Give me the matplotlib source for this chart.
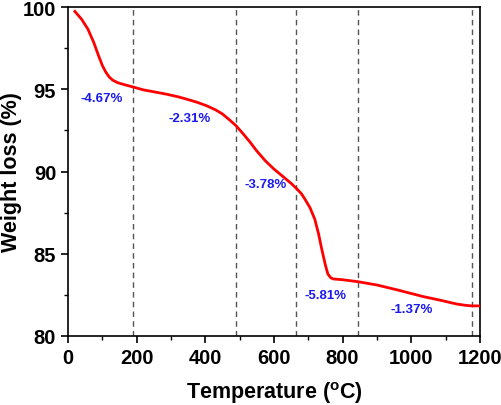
import matplotlib.pyplot as plt
import numpy as np
from matplotlib.ticker import MultipleLocator

plt.rcParams.update({
    "font.family": "Liberation Sans",
    "font.weight": "bold",
    "mathtext.fontset": "custom",
    "mathtext.rm": "Liberation Sans:bold",
    "mathtext.bf": "Liberation Sans:bold",
})

# TGA curve
temp = [20, 40, 58, 75, 88, 100, 110, 120, 130, 145, 165, 190, 219, 250, 288,
        320, 346, 375, 404, 430, 450, 470, 489, 510, 530, 550, 575, 600, 626,
        650, 667, 680, 690, 705, 719, 730, 739, 750, 757, 765, 772, 800, 845,
        900, 960, 1034, 1090, 1133, 1160, 1177, 1197]
weight = [99.74, 99.25, 98.66, 97.85, 97.1, 96.45, 96.05, 95.75, 95.56, 95.4,
          95.28, 95.14, 94.97, 94.85, 94.7, 94.55, 94.4, 94.22, 94.0, 93.75,
          93.5, 93.15, 92.8, 92.3, 91.8, 91.25, 90.65, 90.15, 89.7, 89.28,
          88.94, 88.65, 88.33, 87.8, 87.1, 86.2, 85.3, 84.3, 83.77, 83.55,
          83.47, 83.42, 83.3, 83.1, 82.8, 82.4, 82.15, 81.94, 81.86, 81.83,
          81.83]

# stage boundaries and weight-loss labels
boundaries = [189, 489, 663, 845, 1177]
label_text = ["-4.67%", "-2.31%", "-3.78%", "-5.81%", "-1.37%"]
label_x = [97, 355, 577, 749, 1002]
label_y = [94.47, 93.25, 89.24, 82.5, 81.65]

fig = plt.figure(figsize=(5.02, 4.06), dpi=100)
ax = fig.add_axes([0.1355, 0.170, 0.8205, 0.810])

for b in boundaries:
    ax.axvline(b, color="#555555", linestyle=(0, (4, 3)), linewidth=1.0, zorder=1)

ax.plot(temp, weight, color="#ff0000", linewidth=2.0, zorder=3)

for t, x, y in zip(label_text, label_x, label_y):
    ax.text(x, y, t, color="#1a1aee", fontsize=9.5, fontweight="bold",
            ha="center", va="center")

ax.set_xlim(0, 1200)
ax.set_ylim(80, 100)
ax.xaxis.set_major_locator(MultipleLocator(200))
ax.xaxis.set_minor_locator(MultipleLocator(100))
ax.yaxis.set_major_locator(MultipleLocator(5))
ax.yaxis.set_minor_locator(MultipleLocator(2.5))
ax.tick_params(which="major", direction="out", length=5, width=1.2,
               labelsize=14.5, top=False, right=False)
ax.tick_params(which="minor", direction="out", length=3, width=1.0,
               top=False, right=False)
for lab in ax.get_xticklabels() + ax.get_yticklabels():
    lab.set_fontweight("bold")
for s in ax.spines.values():
    s.set_linewidth(1.2)

ax.set_xlabel(r"Temperature ($^{\mathbf{o}}$C)", fontsize=15.5, fontweight="bold",
              va="center")
ax.set_ylabel("Weight loss (%)", fontsize=15.5, fontweight="bold", va="center")
ax.xaxis.set_label_coords(0.502, -0.172)
ax.yaxis.set_label_coords(-0.138, 0.5)

fig.savefig("out.png", dpi=100)
